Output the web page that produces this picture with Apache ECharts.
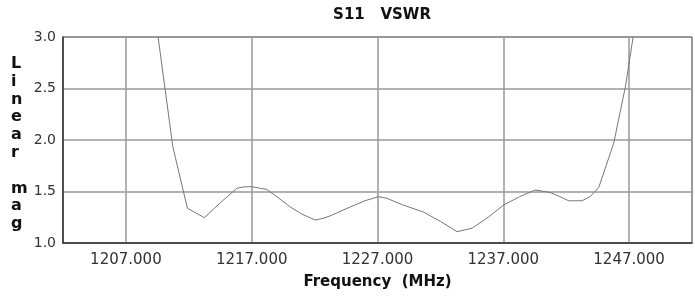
<!DOCTYPE html>
<html>
<head>
<meta charset="utf-8">
<script src="https://cdn.jsdelivr.net/npm/echarts@6/dist/echarts.min.js"></script>
<style>
  html, body { margin: 0; padding: 0; background: #fff; }
  #chart { width: 695px; height: 298px; }
</style>
</head>
<body>
<div id="chart"></div>
<script>
// 頻率 (MHz) 與 VSWR 讀值
const freqMHz = [1209.0, 1209.56, 1210.73, 1211.89, 1213.24, 1214.5, 1215.82, 1216.4, 1217.0, 1218.2,
  1219.1, 1220.06, 1221.0, 1222.05, 1222.7, 1223.37, 1224.83, 1226.0, 1227.08, 1227.75,
  1229.0, 1230.66, 1232.0, 1233.32, 1234.51, 1235.8, 1237.03, 1238.3, 1239.55, 1240.74,
  1241.5, 1242.2, 1243.26, 1243.9, 1244.59, 1245.78, 1246.71, 1247.32, 1247.8];
const vswr = [3.5, 3.0, 1.935, 1.337, 1.246, 1.39, 1.531, 1.545, 1.547, 1.52,
  1.44, 1.35, 1.28, 1.223, 1.24, 1.27, 1.35, 1.41, 1.45, 1.434,
  1.37, 1.30, 1.21, 1.11, 1.143, 1.25, 1.369, 1.45, 1.515, 1.49,
  1.45, 1.41, 1.41, 1.45, 1.54, 1.97, 2.52, 3.0, 3.38];
const xTicks = [1207, 1217, 1227, 1237, 1247];

const chart = echarts.init(document.getElementById('chart'));

const option = {
  animation: false,
  title: {
    text: 'S11   VSWR',
    left: 377,
    top: 3,
    textAlign: 'center',
    textStyle: { fontFamily: 'DejaVu Sans', fontSize: 15, fontWeight: 'bold', color: '#111' }
  },
  grid: { left: 63, right: 3, top: 37, bottom: 55, show: true, borderColor: '#333', borderWidth: 1 },
  xAxis: {
    type: 'value',
    min: 1202,
    max: 1252,
    name: 'Frequency  (MHz)',
    nameLocation: 'middle',
    nameGap: 32,
    nameTextStyle: { fontFamily: 'DejaVu Sans', fontSize: 15, fontWeight: 'bold', color: '#111' },
    axisLine: { show: true, lineStyle: { color: '#333', width: 1.5 } },
    axisTick: { show: false, customValues: xTicks },
    axisLabel: {
      customValues: xTicks,
      margin: 10,
      fontFamily: 'DejaVu Sans',
      fontSize: 15,
      color: '#333',
      formatter: v => v.toFixed(3)
    },
    splitLine: { show: true, lineStyle: { color: '#999', width: 1.5 } }
  },
  yAxis: {
    type: 'value',
    min: 1.0,
    max: 3.0,
    interval: 0.5,
    axisLine: { show: true, lineStyle: { color: '#333', width: 1.5 } },
    axisTick: { show: false },
    axisLabel: {
      margin: 7,
      fontFamily: 'DejaVu Sans',
      fontSize: 14,
      color: '#333',
      formatter: v => v.toFixed(1)
    },
    splitLine: { show: true, lineStyle: { color: '#999', width: 1.5 } }
  },
  graphic: [{
    type: 'text',
    left: 11,
    top: 55,
    style: {
      text: 'L\ni\nn\ne\na\nr\n\nm\na\ng',
      fontFamily: 'DejaVu Sans',
      fontSize: 16,
      fontWeight: 'bold',
      lineHeight: 17.8,
      align: 'center',
      fill: '#111'
    }
  }],
  series: [{
    type: 'line',
    data: freqMHz.map((f, i) => [f, vswr[i]]),
    showSymbol: false,
    clip: true,
    lineStyle: { color: '#777', width: 1 }
  }]
};

chart.setOption(option);
</script>
</body>
</html>
